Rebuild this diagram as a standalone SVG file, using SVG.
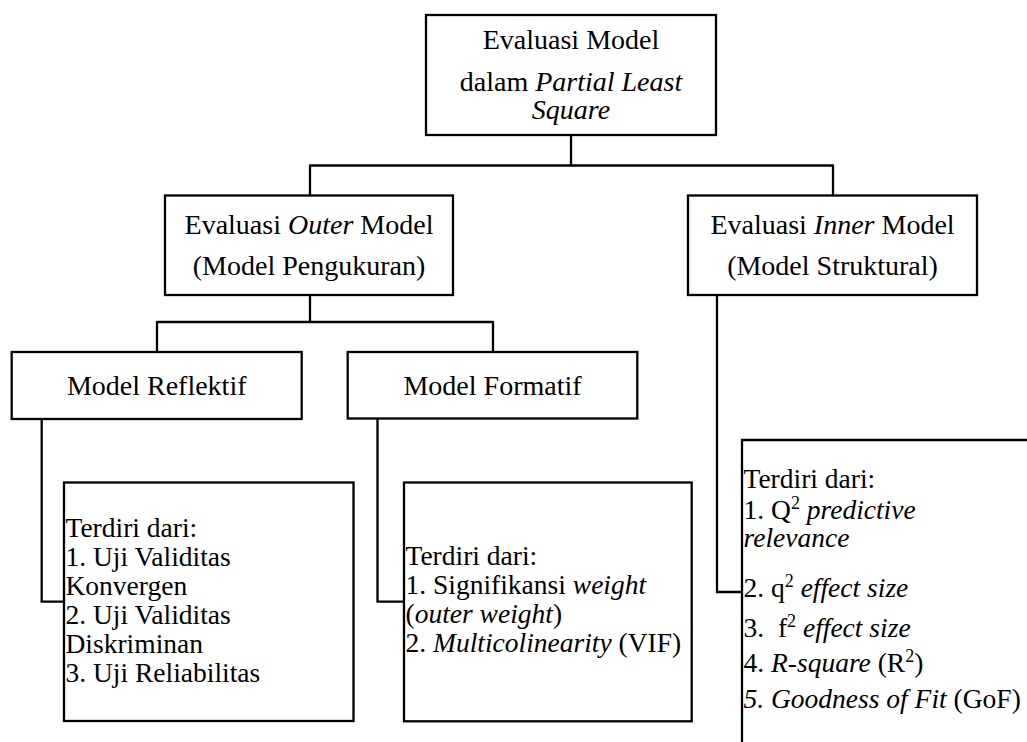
<svg xmlns="http://www.w3.org/2000/svg" width="1027" height="742" viewBox="0 0 1027 742" font-family="Liberation Serif, Times New Roman, DejaVu Serif, serif">
<style>
text,tspan{font-family:"Liberation Serif","Times New Roman","DejaVu Serif",serif;fill:#000;}
.h{font-size:28px;text-anchor:middle;}
.l{font-size:27.5px;}
.i{font-style:italic;}
.s{font-size:18px;}
.box{fill:#fff;stroke:#000;stroke-width:2.3;}
.c{fill:none;stroke:#000;stroke-width:2.3;}
</style>
<rect width="1027" height="742" fill="#fff"/>
<g id="connectors">
<path class="c" d="M571 135V165.5M310 165.5H833M310 164.5V196M833 164.5V196"/>
<path class="c" d="M310 295V322M157 322H493M157 321V352M493 321V352"/>
<path class="c" d="M41.7 419V601.7H64"/>
<path class="c" d="M377.5 419V601.7H404"/>
<path class="c" d="M717 295V592H742"/>
</g>
<g id="root">
<rect class="box" x="426" y="15" width="290" height="120"/>
<text class="h" x="571" y="49">Evaluasi Model</text>
<text class="h" x="571" y="90.5">dalam <tspan class="i">Partial Least</tspan></text>
<text class="h i" x="571" y="118.5">Square</text>
</g>
<g id="outer">
<rect class="box" x="165" y="195.5" width="288" height="99.5"/>
<text class="h" x="309" y="234">Evaluasi <tspan class="i">Outer</tspan> Model</text>
<text class="h" x="309" y="275">(Model Pengukuran)</text>
</g>
<g id="inner">
<rect class="box" x="688" y="195.5" width="289" height="99.5"/>
<text class="h" x="832.5" y="233.5">Evaluasi <tspan class="i">Inner</tspan> Model</text>
<text class="h" x="832.5" y="274.5">(Model Struktural)</text>
</g>
<g id="reflektif">
<rect class="box" x="11.7" y="352" width="290" height="67"/>
<text class="h" x="156.7" y="395">Model Reflektif</text>
</g>
<g id="formatif">
<rect class="box" x="347.7" y="352" width="289.6" height="66.5"/>
<text class="h" x="492.5" y="395">Model Formatif</text>
</g>
<g id="reflektif-list">
<rect class="box" x="64" y="482.5" width="289.5" height="238.5"/>
<text class="l" x="65.5" y="536.7">Terdiri dari:</text>
<text class="l" x="65.5" y="566">1. Uji Validitas</text>
<text class="l" x="65.5" y="595">Konvergen</text>
<text class="l" x="65.5" y="624">2. Uji Validitas</text>
<text class="l" x="65.5" y="653.3">Diskriminan</text>
<text class="l" x="65.5" y="682.3">3. Uji Reliabilitas</text>
</g>
<g id="formatif-list">
<rect class="box" x="404" y="482.5" width="287.7" height="238.8"/>
<text class="l" x="405.5" y="565">Terdiri dari:</text>
<text class="l" x="405.5" y="594">1. Signifikansi <tspan class="i">weight</tspan></text>
<text class="l" x="405.5" y="623">(<tspan class="i">outer weight</tspan>)</text>
<text class="l" x="405.5" y="652">2. <tspan class="i">Multicolinearity</tspan> (VIF)</text>
</g>
<g id="inner-list">
<path class="c" d="M742 742V440H1027"/>
<text class="l" x="743.5" y="488.3">Terdiri dari:</text>
<text class="l" x="743.5" y="519.3">1. Q<tspan class="s" dy="-10">2</tspan><tspan class="i" dy="10"> predictive</tspan></text>
<text class="l i" x="743.5" y="546.7">relevance</text>
<text class="l" x="743.5" y="596.7">2. q<tspan class="s" dy="-10">2</tspan><tspan class="i" dy="10"> effect size</tspan></text>
<text class="l" x="743.5" y="636.7">3. &#160;f<tspan class="s" dy="-10">2</tspan><tspan class="i" dy="10"> effect size</tspan></text>
<text class="l" x="743.5" y="671.7">4. <tspan class="i">R-square</tspan> (R<tspan class="s" dy="-10">2</tspan><tspan dy="10">)</tspan></text>
<text class="l" x="743.5" y="708.3"><tspan class="i">5. Goodness of Fit</tspan> (GoF)</text>
</g>
</svg>
